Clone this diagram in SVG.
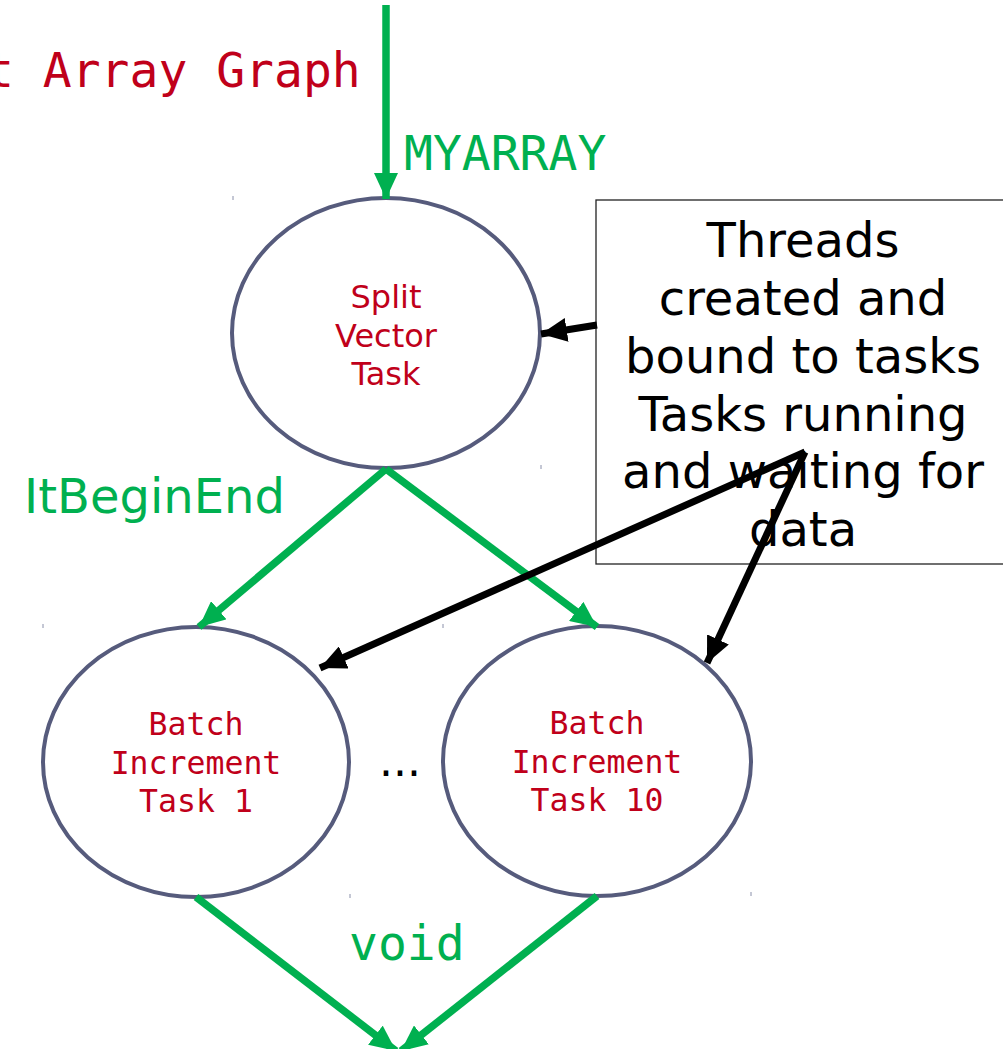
<svg xmlns="http://www.w3.org/2000/svg" width="1003" height="1049" viewBox="0 0 1003 1049">
<style>
.node{fill:#ffffff;stroke:#565b7c;stroke-width:4}
.tname{font-family:"DejaVu Sans",sans-serif;font-size:32px;fill:#c0001a;text-anchor:middle}
.mname{font-family:"DejaVu Sans Mono",monospace;font-size:31.5px;fill:#c0001a;text-anchor:middle}
.g{stroke:#00b050;stroke-width:7.5;fill:none}
.k{stroke:#000000;stroke-width:7;fill:none}
.glabel{fill:#00b050;font-size:48px}
.mono{font-family:"DejaVu Sans Mono",monospace}
.sans{font-family:"DejaVu Sans",sans-serif}
.note{font-family:"DejaVu Sans",sans-serif;font-size:48px;fill:#000;text-anchor:middle}
.tick{stroke:#8a90aa;stroke-width:1}
</style>
<defs>
<marker id="ga" markerUnits="userSpaceOnUse" markerWidth="26" markerHeight="24" viewBox="0 0 26 24" refX="26" refY="12" orient="auto">
<path d="M0,0 L26,12 L0,24 Z" fill="#00b050"/>
</marker>
<marker id="ka" markerUnits="userSpaceOnUse" markerWidth="26" markerHeight="24" viewBox="0 0 26 24" refX="26" refY="12" orient="auto">
<path d="M0,0 L26,12 L0,24 Z" fill="#000000"/>
</marker>
</defs>
<rect width="1003" height="1049" fill="#ffffff"/>
<text x="-15" y="87" class="mono" font-size="48" fill="#c0001a">t Array Graph</text>
<g id="ticks">
<line class="tick" x1="233" y1="196" x2="233" y2="200"/>
<line class="tick" x1="541" y1="465" x2="541" y2="469"/>
<line class="tick" x1="43" y1="624" x2="43" y2="628"/>
<line class="tick" x1="443" y1="624" x2="443" y2="628"/>
<line class="tick" x1="350" y1="894" x2="350" y2="898"/>
<line class="tick" x1="751" y1="892" x2="751" y2="896"/>
</g>
<g id="split-vector-task">
<ellipse class="node" cx="386" cy="333" rx="154" ry="135"/>
<text class="tname" x="386" y="308">Split</text>
<text class="tname" x="386" y="347">Vector</text>
<text class="tname" x="386" y="385">Task</text>
</g>
<g id="batch-increment-task-1">
<ellipse class="node" cx="196" cy="762" rx="153" ry="135"/>
<text class="mname" x="196" y="735">Batch</text>
<text class="mname" x="196" y="774">Increment</text>
<text class="mname" x="196" y="812">Task 1</text>
</g>
<g id="batch-increment-task-10">
<ellipse class="node" cx="597" cy="761" rx="154" ry="135"/>
<text class="mname" x="597" y="734">Batch</text>
<text class="mname" x="597" y="773">Increment</text>
<text class="mname" x="597" y="811">Task 10</text>
</g>
<text x="400" y="776" class="sans" font-size="44" text-anchor="middle" fill="#000">...</text>
<g id="note">
<rect x="596" y="200" width="420" height="364" fill="#ffffff" stroke="#222222" stroke-width="1.3"/>
<text class="note" x="803" y="257">Threads</text>
<text class="note" x="803" y="315">created and</text>
<text class="note" x="803" y="373">bound to tasks</text>
<text class="note" x="803" y="431">Tasks running</text>
<text class="note" x="803" y="488">and waiting for</text>
<text class="note" x="803" y="546">data</text>
</g>
<g id="connectors">
<line class="g" x1="386" y1="5" x2="386" y2="199" marker-end="url(#ga)"/>
<line class="g" x1="386" y1="469" x2="199" y2="627" marker-end="url(#ga)"/>
<line class="g" x1="386" y1="469" x2="597" y2="627" marker-end="url(#ga)"/>
<line class="g" x1="196" y1="897" x2="396" y2="1051" marker-end="url(#ga)"/>
<line class="g" x1="597" y1="896" x2="401" y2="1051" marker-end="url(#ga)"/>
<line class="k" x1="597" y1="325" x2="541" y2="334" marker-end="url(#ka)"/>
<line class="k" x1="805" y1="452" x2="320" y2="668" marker-end="url(#ka)"/>
<line class="k" x1="805" y1="452" x2="707" y2="663" marker-end="url(#ka)"/>
<text class="mono glabel" x="404" y="170">MYARRAY</text>
<text class="sans glabel" x="24" y="513">ItBeginEnd</text>
<text class="mono glabel" x="349" y="960">void</text>
</g>
</svg>
